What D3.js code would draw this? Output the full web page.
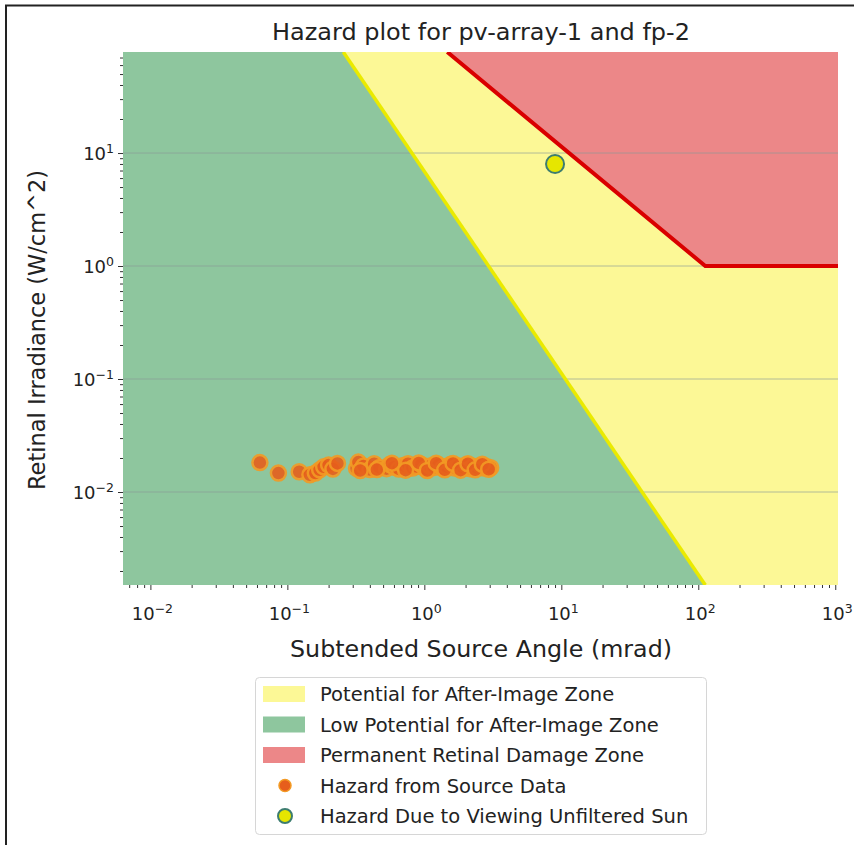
<!DOCTYPE html>
<html>
<head>
<meta charset="utf-8">
<script src="https://cdn.jsdelivr.net/npm/d3@7"></script>
<style>
  body { margin: 0; background: #fff; }
  text { font-family: "DejaVu Sans", sans-serif; fill: #222; }
</style>
</head>
<body>
<div class="chart"></div>
<script>
// data
var xDomain = [Math.pow(10, -2.2), Math.pow(10, 3.02)];
var yDomain = [Math.pow(10, -2.823), Math.pow(10, 1.894)];

// after-image threshold (green / yellow boundary)
var afterImageLine = [[0.256, 78.3], [112.5, 0.0015]];
// permanent retinal damage threshold (red line)
var burnLine = [[1.47, 78.3], [112.5, 1.0], [1047, 1.0]];

var sourceAngle = [0.063, 0.086, 0.122, 0.146, 0.16, 0.172, 0.184, 0.2, 0.215, 0.232,
  0.32, 0.33, 0.36, 0.40, 0.43, 0.47, 0.53, 0.56, 0.60, 0.65, 0.70, 0.76, 0.82, 0.88,
  0.95, 1.02, 1.10, 1.18, 1.27, 1.36, 1.46, 1.56, 1.67, 1.78, 1.90, 2.02, 2.15, 2.28,
  2.42, 2.57, 2.72, 2.88, 3.05,
  0.34, 0.45, 0.58, 0.73, 0.91, 1.05, 1.22, 1.41, 1.62, 1.84, 2.08, 2.35, 2.65, 2.95];
var sourceIrradiance = [0.0182, 0.0147, 0.0151, 0.0142, 0.0147, 0.0157, 0.0167, 0.0173,
  0.0160, 0.0179, 0.0162, 0.0184, 0.0170, 0.0158, 0.0178, 0.0165, 0.0161, 0.0175, 0.0166,
  0.0160, 0.0172, 0.0178, 0.0163, 0.0168, 0.0175, 0.0160, 0.0170, 0.0165, 0.0174, 0.0162,
  0.0168, 0.0176, 0.0163, 0.0170, 0.0166, 0.0174, 0.0161, 0.0169, 0.0165, 0.0172, 0.0163,
  0.0167, 0.0164,
  0.0155, 0.0158, 0.0180, 0.0156, 0.0181, 0.0155, 0.0180, 0.0157, 0.0179, 0.0156, 0.0178,
  0.0157, 0.0176, 0.0159];

var sunPoint = [9.0, 8.0];

var xTickExps = [-2, -1, 0, 1, 2, 3];
var yTickExps = [-2, -1, 0, 1];

var legendItems = [
  {label: "Potential for After-Image Zone", type: "patch", color: "#fcf896"},
  {label: "Low Potential for After-Image Zone", type: "patch", color: "#8ec69e"},
  {label: "Permanent Retinal Damage Zone", type: "patch", color: "#ec8788"},
  {label: "Hazard from Source Data", type: "source"},
  {label: "Hazard Due to Viewing Unfiltered Sun", type: "sun"}
];

var svgWidth = 854, svgHeight = 845;
var plot = {left: 123, right: 838, top: 52, bottom: 585};

var svg = d3.select(".chart").append("svg")
  .attr("width", svgWidth)
  .attr("height", svgHeight);

// frame of the figure (top and left edge)
svg.append("line").attr("x1", 5).attr("x2", svgWidth).attr("y1", 5.5).attr("y2", 5.5)
  .attr("stroke", "#222").attr("stroke-width", 2);
svg.append("line").attr("x1", 6).attr("x2", 6).attr("y1", 5).attr("y2", svgHeight)
  .attr("stroke", "#222").attr("stroke-width", 2);

var xScale = d3.scaleLog().domain(xDomain).range([plot.left, plot.right]);
var yScale = d3.scaleLog().domain(yDomain).range([plot.bottom, plot.top]);

svg.append("clipPath").attr("id", "plot-clip")
  .append("rect")
  .attr("x", plot.left).attr("y", plot.top)
  .attr("width", plot.right - plot.left).attr("height", plot.bottom - plot.top);

var area = svg.append("g").attr("clip-path", "url(#plot-clip)");

// yellow zone = background
area.append("rect")
  .attr("x", plot.left).attr("y", plot.top)
  .attr("width", plot.right - plot.left).attr("height", plot.bottom - plot.top)
  .attr("fill", legendItems[0].color);

var toPath = d3.line().x(d => xScale(d[0])).y(d => yScale(d[1]));

// green zone: left of the after-image line
var greenPoly = [[xDomain[0], yDomain[1]]].concat(afterImageLine).concat([[xDomain[0], yDomain[0]]]);
area.append("path").attr("d", toPath(greenPoly) + "Z").attr("fill", legendItems[1].color);

// red zone: above the burn line
var redPoly = burnLine.concat([[xDomain[1], yDomain[1]]]);
area.append("path").attr("d", toPath(redPoly) + "Z").attr("fill", legendItems[2].color);

// horizontal grid lines
area.selectAll(".grid")
  .data(yTickExps)
  .enter()
  .append("line")
  .attr("x1", plot.left).attr("x2", plot.right)
  .attr("y1", d => yScale(Math.pow(10, d))).attr("y2", d => yScale(Math.pow(10, d)))
  .attr("stroke", "#8a9a98").attr("stroke-width", 0.8).attr("opacity", 0.8);

area.append("path").attr("d", toPath(afterImageLine))
  .attr("fill", "none").attr("stroke", "#eaea00").attr("stroke-width", 3.5);
area.append("path").attr("d", toPath(burnLine))
  .attr("fill", "none").attr("stroke", "#d90000").attr("stroke-width", 4)
  .attr("stroke-linejoin", "miter");

// source hazard points
area.selectAll(".src")
  .data(sourceAngle)
  .enter()
  .append("circle")
  .attr("cx", d => xScale(d))
  .attr("cy", (d, i) => yScale(sourceIrradiance[i]))
  .attr("r", 7.5)
  .attr("fill", "#e65e1c")
  .attr("stroke", "#f39a24")
  .attr("stroke-width", 2.5)
  .attr("opacity", 0.9);

// sun point
area.append("circle")
  .attr("cx", xScale(sunPoint[0])).attr("cy", yScale(sunPoint[1]))
  .attr("r", 9)
  .attr("fill", "#e6e600")
  .attr("stroke", "#3d7d70")
  .attr("stroke-width", 2);

// axes with log ticks
function supLabel(sel, exp) {
  sel.text("10");
  sel.append("tspan").attr("dy", "-0.55em").attr("font-size", "12.5px")
    .text(exp < 0 ? "\u2212" + (-exp) : exp);
}

function minorTicks(domain) {
  var out = [];
  var lo = Math.floor(Math.log10(domain[0])), hi = Math.ceil(Math.log10(domain[1]));
  for (var e = lo; e <= hi; e++) {
    for (var m = 2; m <= 9; m++) {
      var v = m * Math.pow(10, e);
      if (v >= domain[0] && v <= domain[1]) out.push(v);
    }
  }
  return out;
}

var xAxis = d3.axisBottom(xScale).tickValues(xTickExps.map(e => Math.pow(10, e)))
  .tickSize(5).tickFormat("");
var xAxisMinor = d3.axisBottom(xScale).tickValues(minorTicks(xDomain))
  .tickSize(3).tickFormat("");
var yAxis = d3.axisLeft(yScale).tickValues(yTickExps.map(e => Math.pow(10, e)))
  .tickSize(5).tickFormat("");
var yAxisMinor = d3.axisLeft(yScale).tickValues(minorTicks(yDomain))
  .tickSize(3).tickFormat("");

[xAxis, xAxisMinor].forEach(function(ax) {
  var g = svg.append("g").attr("transform", `translate(0, ${plot.bottom})`).call(ax);
  g.select(".domain").remove();
  g.selectAll("line").attr("stroke", "#333").attr("stroke-width", 1);
});
[yAxis, yAxisMinor].forEach(function(ax) {
  var g = svg.append("g").attr("transform", `translate(${plot.left}, 0)`).call(ax);
  g.select(".domain").remove();
  g.selectAll("line").attr("stroke", "#333").attr("stroke-width", 1);
});

svg.selectAll(".xlab")
  .data(xTickExps)
  .enter()
  .append("text")
  .attr("x", d => xScale(Math.pow(10, d)) + 2)
  .attr("y", 620)
  .attr("text-anchor", "middle")
  .attr("font-size", "18px")
  .each(function(d) { supLabel(d3.select(this), d); });

svg.selectAll(".ylab")
  .data(yTickExps)
  .enter()
  .append("text")
  .attr("x", 114)
  .attr("y", d => yScale(Math.pow(10, d)) + 7)
  .attr("text-anchor", "end")
  .attr("font-size", "18px")
  .each(function(d) { supLabel(d3.select(this), d); });

// titles
svg.append("text")
  .attr("x", 481).attr("y", 40)
  .attr("text-anchor", "middle").attr("font-size", "23.5px")
  .attr("textLength", 418).attr("lengthAdjust", "spacingAndGlyphs")
  .text("Hazard plot for pv-array-1 and fp-2");

svg.append("text")
  .attr("x", 481).attr("y", 657)
  .attr("text-anchor", "middle").attr("font-size", "23.5px")
  .attr("textLength", 382).attr("lengthAdjust", "spacingAndGlyphs")
  .text("Subtended Source Angle (mrad)");

svg.append("text")
  .attr("transform", `translate(45, 330) rotate(-90)`)
  .attr("text-anchor", "middle").attr("font-size", "23px")
  .attr("textLength", 320).attr("lengthAdjust", "spacingAndGlyphs")
  .text("Retinal Irradiance (W/cm^2)");

// legend
var legend = svg.append("g");
legend.append("rect")
  .attr("x", 255.5).attr("y", 677.5).attr("width", 451).attr("height", 157)
  .attr("rx", 4).attr("fill", "#fff").attr("stroke", "#d6d6d6");

var rows = legend.selectAll(".row")
  .data(legendItems)
  .enter()
  .append("g")
  .attr("transform", (d, i) => `translate(0, ${694 + i * 30.5})`);

rows.filter(d => d.type === "patch").append("rect")
  .attr("x", 263).attr("y", -8).attr("width", 42).attr("height", 16)
  .attr("fill", d => d.color);
rows.filter(d => d.type === "source").append("circle")
  .attr("cx", 285).attr("cy", 0).attr("r", 6)
  .attr("fill", "#e65e1c").attr("stroke", "#f39a24").attr("stroke-width", 1.5);
rows.filter(d => d.type === "sun").append("circle")
  .attr("cx", 285).attr("cy", 0).attr("r", 7)
  .attr("fill", "#e6e600").attr("stroke", "#3d7d70").attr("stroke-width", 2);

rows.append("text")
  .attr("x", 320).attr("y", 7)
  .attr("font-size", "19.5px")
  .text(d => d.label);
</script>
</body>
</html>
